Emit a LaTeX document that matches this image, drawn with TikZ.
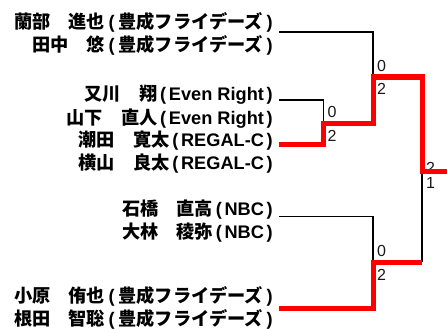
\documentclass[tikz,border=0pt]{standalone}
\usepackage{fontspec}
\newfontfamily\jpb{Noto Sans CJK JP}
\newfontfamily\latb{Liberation Sans}
\newfontfamily\numf{Liberation Sans}
\newcommand{\LP}[1]{{\latb\bfseries\hspace{#1em}(\hspace{#1em}}}
\newcommand{\RP}[1]{{\latb\bfseries\hspace{#1em})}}
\newcommand{\LT}[1]{{\latb\bfseries #1}}
\begin{document}
\begin{tikzpicture}[x=1pt,y=-1pt,
  namelbl/.style={anchor=base east, inner sep=0pt, font=\jpb\bfseries\fontsize{18.2}{18.2}\selectfont},
  score/.style={anchor=base west, inner sep=0pt, text=black!90, font=\numf\fontsize{16}{16}\selectfont},
  lline/.style={black, line width=1.3pt},
  wline/.style={red, line width=5pt, line join=miter}]
\useasboundingbox (0,0) rectangle (447,329);
% names
\node[namelbl] (n1) at (273,28.5) {蘭部　進也\LP{0.2}豊成フライデーズ\RP{0.2}};
\node[namelbl] (n2) at (273,51.5) {田中　悠\LP{0.2}豊成フライデーズ\RP{0.2}};
\node[namelbl] (n3) at (273,100.5) {又川　翔\LP{0.15}\LT{Even Right}\RP{0.15}};
\node[namelbl] (n4) at (273,124) {山下　直人\LP{0.15}\LT{Even Right}\RP{0.15}};
\node[namelbl] (n5) at (273,146.5) {潮田　寛太\LP{0.15}\LT{REGAL-C}\RP{0.15}};
\node[namelbl] (n6) at (273,169.5) {横山　良太\LP{0.15}\LT{REGAL-C}\RP{0.15}};
\node[namelbl] (n7) at (273,215.5) {石橋　直高\LP{0.15}\LT{NBC}\RP{0.15}};
\node[namelbl] (n8) at (273,238.5) {大林　稜弥\LP{0.15}\LT{NBC}\RP{0.15}};
\node[namelbl] (n9) at (273,302.5) {小原　侑也\LP{0.2}豊成フライデーズ\RP{0.2}};
\node[namelbl] (n10) at (273,325) {根田　智聡\LP{0.2}豊成フライデーズ\RP{0.2}};
% coordinates
\coordinate (a1) at (279,32);
\coordinate (aj) at (373,77);
\coordinate (b1) at (279,100);
\coordinate (b2) at (279,144.5);
\coordinate (bj) at (323.5,123);
\coordinate (c1) at (279,216.5);
\coordinate (c2) at (279,308);
\coordinate (cj) at (373,262);
\coordinate (fj) at (422,171);
\coordinate (fc) at (422,262);
\coordinate (fe) at (447,171);
% scores
\node[score] (sa0) at (377,71) {0};
\node[score] (sa2) at (377,94.5) {2};
\node[score] (sb0) at (327.5,117) {0};
\node[score] (sb2) at (327.5,141.5) {2};
\node[score] (sc0) at (377,256) {0};
\node[score] (sc2) at (377,280.5) {2};
\node[score] (sf2) at (426,173.5) {2};
\node[score] (sf1) at (426,188) {1};
% losers
\draw[lline] (a1) -| (aj);
\draw[lline] (b1) -| (bj);
\draw[lline] (c1) -| (cj);
\draw[lline] (fc) -- (fj);
% winners
\draw[wline] (b2) -| (bj) -| (aj) -| (fj) -- (fe);
\draw[wline] (c2) -| (cj) -- (fc);
\end{tikzpicture}
\end{document}
